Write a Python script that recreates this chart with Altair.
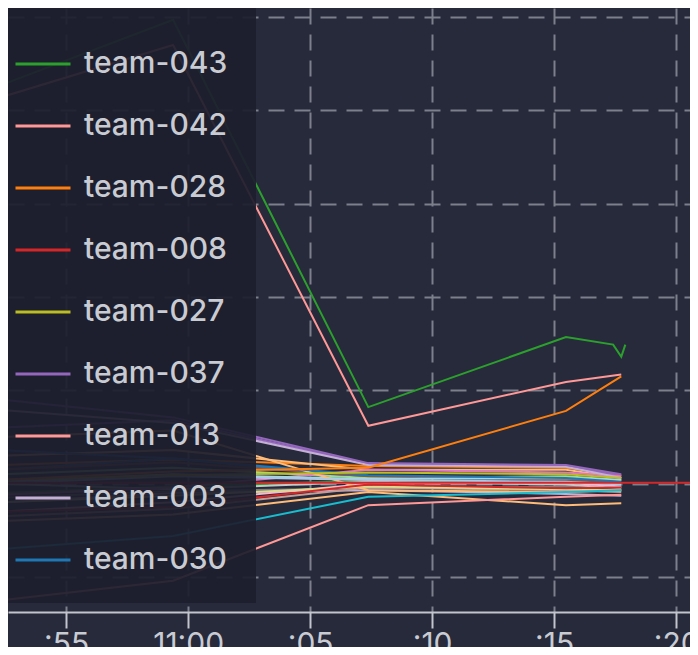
import altair as alt
import pandas as pd

# sample times (local clock)
times = ["2024-01-01T10:52:20", "2024-01-01T10:59:23", "2024-01-01T11:07:23",
         "2024-01-01T11:15:29", "2024-01-01T11:17:45"]

teams = ["team-001", "team-002", "team-004", "team-005", "team-006", "team-007",
         "team-009", "team-010", "team-011", "team-012", "team-014", "team-015",
         "team-016", "team-017", "team-018", "team-019", "team-020", "team-021",
         "team-022", "team-044", "team-030", "team-003", "team-013", "team-037",
         "team-027", "team-028", "team-042", "team-043", "team-008"]

colors = ["#ff7f0e", "#ffbb78", "#1f77b4", "#2ca02c", "#c5b0d5", "#9467bd",
          "#98df8a", "#7f7f7f", "#c7c7c7", "#e377c2", "#f7b6d2", "#8c564b",
          "#c49c94", "#9edae5", "#dbdb8d", "#ffbb78", "#ffbb78", "#17becf",
          "#d62728", "#aec7e8", "#1f77b4", "#c5b0d5", "#ff9896", "#9467bd",
          "#bcbd22", "#ff7f0e", "#ff9896", "#2ca02c", "#d62728"]

score_1052 = [1120, 1130, 1115, 1090, 1080, 1160, 1110, 1085, 1100, 1088, 1070, 1115,
              1065, 1102, 1080, 1150, 1060, 1030, 1070, 1100, 1136, 1179, 975, 1190,
              1104, 1104, 1514, 1527, 1101]
score_1059 = [1126, 1136, 1127, 1097, 1090, 1168, 1117, 1092, 1094, 1096, 1080, 1123,
              1073, 1110, 1087, 1157, 1067, 1044, 1075, 1108, 1127, 1165, 996, 1171,
              1109, 1113, 1570, 1597, 1101]
score_1107 = [1119, 1115, 1107, 1103, 1093, 1121, 1106, 1095, 1102, 1115, 1100, 1108,
              1096, 1105, 1097, 1093, 1091, 1086, 1099, 1104, 1109, 1120, 1077, 1122,
              1112, 1117, 1162, 1182, 1101]
score_1115 = [1117, 1115, 1104, 1101, 1089, 1119, 1108, 1097, 1099, 1112, 1101, 1104,
              1093, 1106, 1094, 1091, 1077, 1091, 1095, 1102, 1106, 1118, 1086, 1120,
              1110, 1178, 1209, 1257, 1101]
score_1117 = [1109, 1106, 1099, 1097, 1087, 1108, 1104, 1100, 1095, 1108, 1097, 1101,
              1091, 1104, 1093, 1093, 1079, 1093, 1096, 1099, 1102, 1106, 1088, 1110,
              1106, 1215, 1217, 1236, 1101]

# extra samples
extra_team = ["team-043", "team-043", "team-008"]
extra_time = ["2024-01-01T11:17:25", "2024-01-01T11:17:55", "2024-01-01T11:25:00"]
extra_score = [1249, 1249, 1101]

legend_teams = ["team-043", "team-042", "team-028", "team-008", "team-027",
                "team-037", "team-013", "team-003", "team-030"]

tick_times = [alt.DateTime(year=2024, month=1, date=1, hours=h, minutes=m)
              for h, m in [(10, 55), (11, 0), (11, 5), (11, 10), (11, 15), (11, 20)]]
grid_values = [1000, 1100, 1200, 1300, 1400, 1500, 1600]

series = [score_1052, score_1059, score_1107, score_1115, score_1117]
rows = []
for ti, t in enumerate(times):
    for k, team in enumerate(teams):
        rows.append({"team": team, "time": t, "score": series[ti][k]})
for team, t, s in zip(extra_team, extra_time, extra_score):
    rows.append({"team": team, "time": t, "score": s})
df = pd.DataFrame(rows)

label_color = "#c9cbd3"
grid_color = "#7d808c"

chart = alt.Chart(df).mark_line(strokeWidth=2, clip=True).encode(
    x=alt.X("time:T",
            scale=alt.Scale(domain=[alt.DateTime(year=2024, month=1, date=1, hours=10, minutes=52, seconds=37),
                                    alt.DateTime(year=2024, month=1, date=1, hours=11, minutes=20, seconds=34)],
                            nice=False),
            axis=alt.Axis(title=None, values=tick_times,
                          labelExpr="minutes(datum.value) == 0 ? timeFormat(datum.value, '%H:%M') : timeFormat(datum.value, ':%M')",
                          domainColor="#c3c5cc", domainWidth=2, tickColor="#c3c5cc", tickWidth=2,
                          tickSize=16, labelFontSize=30, labelFont="Inter", labelColor=label_color,
                          labelPadding=1, labelFlush=False,
                          grid=True, gridColor=grid_color, gridDash=[16, 10], gridWidth=2)),
    y=alt.Y("score:Q",
            scale=alt.Scale(domain=[962.5, 1609.6], nice=False, zero=False),
            axis=alt.Axis(title=None, values=grid_values, labels=False, ticks=False, domain=False,
                          grid=True, gridColor=grid_color, gridDash=[16, 10], gridWidth=2)),
    color=alt.Color("team:N",
                    scale=alt.Scale(domain=teams, range=colors),
                    legend=alt.Legend(values=legend_teams, orient="none", legendX=-22, legendY=-1,
                                      title=None, symbolType="stroke", symbolSize=3025,
                                      symbolStrokeWidth=3, labelFontSize=30, labelFont="Inter",
                                      labelFontWeight=500,
                                      labelColor=label_color, labelOffset=12, rowPadding=18,
                                      padding=28, fillColor="rgba(29,30,45,0.93)",
                                      labelLimit=400)),
    detail="team:N",
).properties(
    width=682, height=604,
    autosize=alt.AutoSizeParams(type="none"),
    padding={"left": 0, "top": 0, "right": 0, "bottom": 35},
).configure(background="#262a3b").configure_view(stroke=None)

chart.save("out.html", embed_options={"renderer": "svg", "actions": False})
